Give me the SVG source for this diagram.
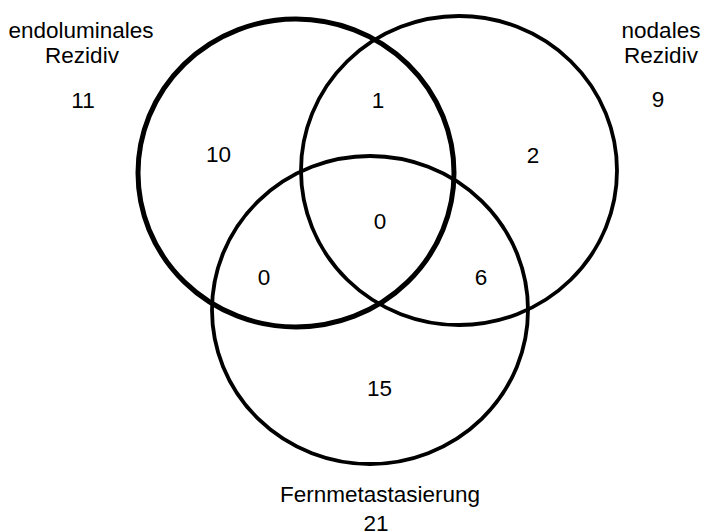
<svg xmlns="http://www.w3.org/2000/svg" width="705" height="532" viewBox="0 0 705 532">
<style>
.c{fill:none;stroke:#000;stroke-width:3.8}
.thick{stroke-width:5}
text{font-family:"Liberation Sans",Arial,sans-serif;font-size:22.5px;fill:#000;text-anchor:middle}
</style>
<rect width="705" height="532" fill="#fff"/>
<g id="set-endoluminal">
<ellipse class="c thick" cx="296" cy="173" rx="158" ry="154"/>
<text x="81" y="38">endoluminales</text>
<text x="82" y="63">Rezidiv</text>
<text x="83" y="108">11</text>
</g>
<g id="set-nodal">
<ellipse class="c" cx="459" cy="170.5" rx="158" ry="154.5"/>
<text x="661" y="38">nodales</text>
<text x="661" y="63">Rezidiv</text>
<text x="658" y="107">9</text>
</g>
<g id="set-fern">
<ellipse class="c" cx="370" cy="310" rx="158" ry="154"/>
<text x="380" y="502">Fernmetastasierung</text>
<text x="376" y="531">21</text>
</g>
<g id="regions">
<text x="218.5" y="162">10</text>
<text x="378" y="108">1</text>
<text x="533" y="163">2</text>
<text x="380" y="229">0</text>
<text x="264" y="285">0</text>
<text x="481" y="285">6</text>
<text x="379.5" y="396">15</text>
</g>
<g id="connectors"></g>
</svg>
